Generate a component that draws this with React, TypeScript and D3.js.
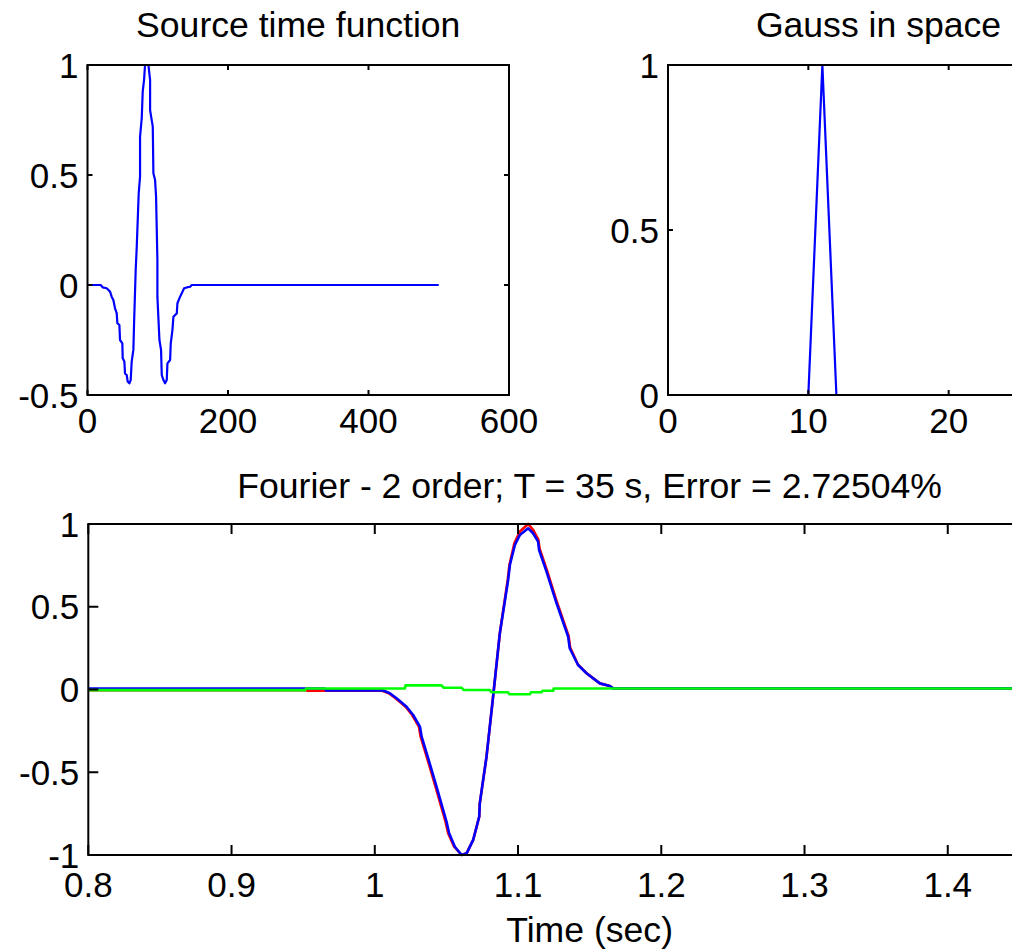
import React from "react";
import * as d3 from "d3";

// ---------- Data ----------
const stfX = [0, 18.8, 21.6, 27.3, 32.1, 34.4, 36.8, 39.2, 41.6, 42.5, 45.4, 46.3, 49.6, 50.1, 52.5, 53.4, 55.8, 57.2, 59.6, 61.5, 62.9, 65.3, 66.3, 68.6, 70.1, 72.9, 74.8, 74.8, 77.2, 78.6, 80.5, 81.9, 86.7, 89.1, 89.1, 92.9, 93.8, 96.2, 97.6, 99.5, 99.5, 102.4, 104.7, 105.7, 108.1, 110.4, 112.8, 113.8, 117.6, 118.5, 120.9, 122.3, 127.1, 128, 131.8, 134.2, 137.5, 141.3, 146.1, 148.4, 500];
const stfY = [0, 0, -0.011, -0.015, -0.03, -0.053, -0.068, -0.106, -0.129, -0.174, -0.182, -0.25, -0.265, -0.333, -0.348, -0.402, -0.409, -0.439, -0.447, -0.432, -0.348, -0.295, -0.174, 0.068, 0.174, 0.417, 0.492, 0.674, 0.758, 0.879, 0.932, 1.0, 1.0, 0.932, 0.795, 0.72, 0.508, 0.477, 0.402, 0.114, -0.053, -0.25, -0.295, -0.409, -0.432, -0.447, -0.432, -0.356, -0.341, -0.265, -0.205, -0.144, -0.129, -0.083, -0.053, -0.038, -0.015, -0.011, -0.008, 0, 0];

const gaussX = [1, 2, 3, 4, 5, 6, 7, 8, 9, 10, 11, 12, 13, 14, 15, 16, 17, 18, 19, 20, 21];
const gaussY = [0, 0, 0, 0, 0, 0, 0, 0, 0, 0, 1, 0, 0, 0, 0, 0, 0, 0, 0, 0, 0];

const blueX = [0.8, 0.965, 0.966, 1.0059, 1.0105, 1.0152, 1.0222, 1.0268, 1.0315, 1.0327, 1.0373, 1.0431, 1.0501, 1.0519, 1.0559, 1.0606, 1.0641, 1.0687, 1.0729, 1.0733, 1.078, 1.0826, 1.0873, 1.0931, 1.0943, 1.0978, 1.1013, 1.1071, 1.1105, 1.114, 1.1147, 1.1199, 1.1269, 1.135, 1.1361, 1.1419, 1.1478, 1.1571, 1.1641, 1.1664, 1.5];
const blueY = [0.006, 0.006, -0.006, -0.006, -0.023, -0.053, -0.104, -0.154, -0.224, -0.285, -0.416, -0.587, -0.799, -0.869, -0.95, -1.0, -0.99, -0.909, -0.769, -0.688, -0.406, -0.0435, 0.34, 0.662, 0.752, 0.873, 0.934, 0.974, 0.944, 0.893, 0.843, 0.712, 0.521, 0.319, 0.249, 0.148, 0.098, 0.037, 0.021, 0.007, 0.007];

const redX = [0.8, 0.952, 0.953, 1.0052, 1.0098, 1.0145, 1.0215, 1.0261, 1.0308, 1.032, 1.0366, 1.0424, 1.0494, 1.0512, 1.0554, 1.0606, 1.0641, 1.0687, 1.0729, 1.0733, 1.078, 1.0826, 1.0873, 1.0928, 1.094, 1.0975, 1.1013, 1.1071, 1.1105, 1.1142, 1.115, 1.1202, 1.1272, 1.1353, 1.1364, 1.1419, 1.1478, 1.1571, 1.1641, 1.1664, 1.5];
const redY = [-0.004, -0.004, -0.008, -0.008, -0.023, -0.053, -0.104, -0.154, -0.224, -0.285, -0.416, -0.587, -0.799, -0.869, -0.95, -1.0, -0.99, -0.909, -0.769, -0.688, -0.406, -0.0435, 0.34, 0.662, 0.752, 0.885, 0.955, 1.0, 0.965, 0.905, 0.853, 0.72, 0.527, 0.324, 0.253, 0.15, 0.099, 0.037, 0.021, 0.007, 0.007];

const greenX = [0.8, 0.9514, 0.952, 1.021, 1.0215, 1.0466, 1.048, 1.0606, 1.062, 1.0803, 1.0815, 1.093, 1.094, 1.1082, 1.109, 1.1164, 1.117, 1.1245, 1.125, 1.5];
const greenY = [-0.004, -0.004, 0.006, 0.006, 0.025, 0.025, 0.011, 0.011, -0.003, -0.003, -0.017, -0.017, -0.029, -0.029, -0.017, -0.017, -0.008, -0.008, 0.006, 0.006];

const stfXTicks = [0, 200, 400, 600];
const stfYTicks = [-0.5, 0, 0.5, 1];
const stfXLabels = ["0", "200", "400", "600"];
const stfYLabels = ["-0.5", "0", "0.5", "1"];
const gaussXTicks = [0, 10, 20, 30];
const gaussYTicks = [0, 0.5, 1];
const gaussXLabels = ["0", "10", "20", ""];
const gaussYLabels = ["0", "0.5", "1"];
const fourXTicks = [0.8, 0.9, 1.0, 1.1, 1.2, 1.3, 1.4, 1.5];
const fourYTicks = [-1, -0.5, 0, 0.5, 1];
const fourXLabels = ["0.8", "0.9", "1", "1.1", "1.2", "1.3", "1.4", ""];
const fourYLabels = ["-1", "-0.5", "0", "0.5", "1"];

const FONT = "'Liberation Sans', Arial, Helvetica, sans-serif";
const TICK_FS = 35;
const TITLE_FS = 35.6;

type Series = { xs: number[]; ys: number[]; color: string };

function Axes(props: {
  left: number; right: number; top: number; bottom: number;
  xDomain: [number, number]; yDomain: [number, number];
  xTicks: number[]; yTicks: number[]; xLabels: string[]; yLabels: string[];
  tickLen: number; title: string; titleY: number; xLabelDy: number;
  series: Series[]; lineW: number; xlabel?: string; xlabelY?: number;
}) {
  const { left, right, top, bottom } = props;
  const x = d3.scaleLinear().domain(props.xDomain).range([left, right]);
  const y = d3.scaleLinear().domain(props.yDomain).range([bottom, top]);
  const tl = props.tickLen;
  const cx = (left + right) / 2;
  return (
    <g>
      {props.series.map((s, i) => {
        const pts: [number, number][] = s.xs.map((v, k) => [v, s.ys[k]]);
        const line = d3.line<[number, number]>().x((d) => x(d[0])).y((d) => y(d[1]));
        return (
          <path key={i} d={line(pts) || ""} fill="none" stroke={s.color} strokeWidth={props.lineW} strokeLinejoin="round" />
        );
      })}
      <rect x={left} y={top} width={right - left} height={bottom - top} fill="none" stroke="#000" strokeWidth={2} />
      {props.xTicks.map((t, i) => (
        <g key={"xt" + i}>
          <line x1={x(t)} x2={x(t)} y1={bottom} y2={bottom - tl} stroke="#000" strokeWidth={2} />
          <line x1={x(t)} x2={x(t)} y1={top} y2={top + tl} stroke="#000" strokeWidth={2} />
          {props.xLabels[i] ? (
            <text x={x(t)} y={bottom + props.xLabelDy} textAnchor="middle" fontSize={TICK_FS} fontFamily={FONT}>
              {props.xLabels[i]}
            </text>
          ) : null}
        </g>
      ))}
      {props.yTicks.map((t, i) => (
        <g key={"yt" + i}>
          <line x1={left} x2={left + tl} y1={y(t)} y2={y(t)} stroke="#000" strokeWidth={2} />
          <line x1={right} x2={right - tl} y1={y(t)} y2={y(t)} stroke="#000" strokeWidth={2} />
          <text x={left - 9} y={y(t)} dy="0.36em" textAnchor="end" fontSize={TICK_FS} fontFamily={FONT}>
            {props.yLabels[i]}
          </text>
        </g>
      ))}
      <text x={cx} y={props.titleY} textAnchor="middle" fontSize={TITLE_FS} fontFamily={FONT}>
        {props.title}
      </text>
      {props.xlabel ? (
        <text x={cx} y={props.xlabelY} textAnchor="middle" fontSize={TITLE_FS} fontFamily={FONT}>
          {props.xlabel}
        </text>
      ) : null}
    </g>
  );
}

export default function App() {
  return (
    <svg
      width={1012}
      height={950}
      style={{ position: "absolute", left: 0, top: 0, display: "block", background: "#fff" }}
    >
      <rect x={0} y={0} width={1012} height={950} fill="#fff" />
      <Axes
        left={87.5} right={509} top={65} bottom={395}
        xDomain={[0, 600]} yDomain={[-0.5, 1]}
        xTicks={stfXTicks} yTicks={stfYTicks} xLabels={stfXLabels} yLabels={stfYLabels}
        tickLen={5} title="Source time function" titleY={37} xLabelDy={38}
        series={[{ xs: stfX, ys: stfY, color: "#0000ff" }]} lineW={2.2}
      />
      <Axes
        left={668} right={1089} top={65} bottom={395}
        xDomain={[0, 30]} yDomain={[0, 1]}
        xTicks={gaussXTicks} yTicks={gaussYTicks} xLabels={gaussXLabels} yLabels={gaussYLabels}
        tickLen={5} title="Gauss in space" titleY={37} xLabelDy={38}
        series={[{ xs: gaussX, ys: gaussY, color: "#0000ff" }]} lineW={2.2}
      />
      <Axes
        left={88.3} right={1091} top={524} bottom={855}
        xDomain={[0.8, 1.5]} yDomain={[-1, 1]}
        xTicks={fourXTicks} yTicks={fourYTicks} xLabels={fourXLabels} yLabels={fourYLabels}
        tickLen={10} title="Fourier - 2 order; T = 35 s, Error = 2.72504%" titleY={498} xLabelDy={42}
        series={[
          { xs: redX, ys: redY, color: "#ff0000" },
          { xs: blueX, ys: blueY, color: "#0000ff" },
          { xs: greenX, ys: greenY, color: "#00ff00" },
        ]}
        lineW={2.6}
        xlabel="Time (sec)" xlabelY={942}
      />
    </svg>
  );
}
